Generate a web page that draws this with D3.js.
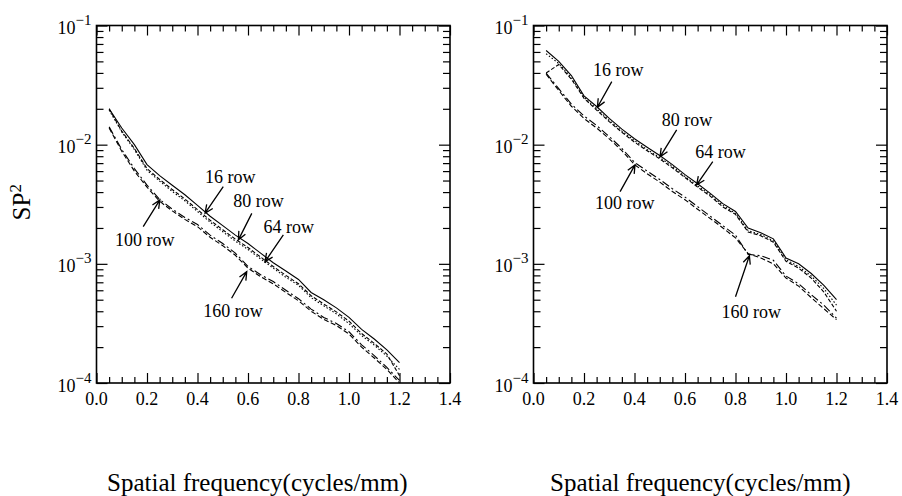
<!DOCTYPE html>
<html><head><meta charset="utf-8">
<script src="https://cdn.jsdelivr.net/npm/d3@7"></script>
<style>
body{margin:0;background:#fff}
svg{display:block}
text{font-family:"Liberation Serif","Times New Roman",serif;fill:#000}
</style>
</head><body>
<svg id="chart" width="902" height="496"></svg>
<script>
// ---------- data ----------
const freq = [0.05,0.10,0.15,0.20,0.25,0.30,0.35,0.40,0.45,0.50,0.55,0.60,
              0.65,0.70,0.75,0.80,0.85,0.90,0.95,1.00,1.05,1.10,1.15,1.20];

const leftRow16  = [2.0e-2,1.38e-2,1.0e-2,6.8e-3,5.5e-3,4.57e-3,3.8e-3,3.09e-3,2.51e-3,2.09e-3,1.74e-3,1.48e-3,
                    1.23e-3,1.02e-3,8.7e-4,7.4e-4,5.75e-4,5.0e-4,4.27e-4,3.55e-4,2.82e-4,2.34e-4,1.9e-4,1.48e-4];
const leftRow80  = [2.0e-2,1.30e-2,9.3e-3,6.3e-3,5.1e-3,4.2e-3,3.5e-3,2.85e-3,2.32e-3,1.93e-3,1.61e-3,1.37e-3,
                    1.14e-3,9.5e-4,8.0e-4,6.8e-4,5.4e-4,4.6e-4,3.95e-4,3.3e-4,2.6e-4,2.15e-4,1.75e-4,1.15e-4];
const leftRow64  = [1.95e-2,1.28e-2,9.1e-3,6.1e-3,4.95e-3,4.05e-3,3.38e-3,2.75e-3,2.24e-3,1.86e-3,1.55e-3,1.32e-3,
                    1.10e-3,9.2e-4,7.7e-4,6.6e-4,5.2e-4,4.45e-4,3.8e-4,3.15e-4,2.5e-4,2.08e-4,1.68e-4,1.3e-4];
const leftRow100 = [1.41e-2,9.1e-3,6.3e-3,4.57e-3,3.47e-3,2.88e-3,2.45e-3,2.14e-3,1.74e-3,1.48e-3,1.23e-3,9.5e-4,
                    8.1e-4,7.1e-4,6.0e-4,5.1e-4,4.17e-4,3.55e-4,3.16e-4,2.69e-4,2.09e-4,1.7e-4,1.35e-4,1.05e-4];
const leftRow160 = [1.38e-2,8.8e-3,6.0e-3,4.4e-3,3.35e-3,2.78e-3,2.36e-3,2.05e-3,1.67e-3,1.42e-3,1.18e-3,9.2e-4,
                    7.8e-4,6.8e-4,5.75e-4,4.9e-4,4.0e-4,3.42e-4,3.03e-4,2.58e-4,2.0e-4,1.62e-4,1.3e-4,1.0e-4];

const rightRow16  = [6.17e-2,5.0e-2,3.8e-2,2.57e-2,2.09e-2,1.66e-2,1.35e-2,1.12e-2,9.5e-3,8.1e-3,6.8e-3,5.6e-3,
                     4.7e-3,3.9e-3,3.2e-3,2.75e-3,2.0e-3,1.82e-3,1.62e-3,1.12e-3,1.0e-3,8.3e-4,6.6e-4,5.0e-4];
const rightRow80  = [4.0e-2,4.7e-2,3.55e-2,2.45e-2,1.95e-2,1.56e-2,1.27e-2,1.05e-2,8.9e-3,7.6e-3,6.4e-3,5.3e-3,
                     4.4e-3,3.7e-3,3.0e-3,2.6e-3,1.85e-3,1.72e-3,1.52e-3,1.05e-3,9.2e-4,7.6e-4,5.8e-4,4.0e-4];
const rightRow64  = [5.8e-2,4.8e-2,3.65e-2,2.5e-2,2.0e-2,1.6e-2,1.3e-2,1.08e-2,9.1e-3,7.8e-3,6.6e-3,5.4e-3,
                     4.5e-3,3.8e-3,3.1e-3,2.65e-3,1.9e-3,1.76e-3,1.56e-3,1.08e-3,9.5e-4,7.9e-4,6.2e-4,4.5e-4];
const rightRow100 = [3.98e-2,2.95e-2,2.19e-2,1.74e-2,1.45e-2,1.17e-2,9.3e-3,7.1e-3,6.0e-3,5.1e-3,4.27e-3,3.63e-3,
                     3.02e-3,2.51e-3,2.09e-3,1.74e-3,1.2e-3,1.17e-3,1.07e-3,7.9e-4,6.8e-4,5.5e-4,4.5e-4,3.5e-4];
const rightRow160 = [3.9e-2,2.85e-2,2.1e-2,1.66e-2,1.38e-2,1.12e-2,8.9e-3,6.8e-3,5.7e-3,4.85e-3,4.05e-3,3.45e-3,
                     2.87e-3,2.4e-3,2.0e-3,1.65e-3,1.22e-3,1.12e-3,1.0e-3,7.6e-4,6.5e-4,5.2e-4,4.2e-4,3.4e-4];

const seriesNames = ["16 row","80 row","64 row","100 row","160 row"];
const xTickValues = [0.0,0.2,0.4,0.6,0.8,1.0,1.2,1.4];
const yTickExponents = [-1,-2,-3,-4];
const xTitle = "Spatial frequency(cycles/mm)";
const yTitle = "SP";

// annotations: label, text anchor (f, value), arrow tail (f, value), arrow tip (f, value)
const leftNotes = [
  {label:"16 row",  tx:0.430, ty:4.78e-3, ax:0.502, ay:4.45e-3, px:0.430, py:2.66e-3},
  {label:"80 row",  tx:0.542, ty:3.00e-3, ax:0.615, ay:2.65e-3, px:0.562, py:1.59e-3},
  {label:"64 row",  tx:0.661, ty:1.83e-3, ax:0.740, ay:1.75e-3, px:0.667, py:1.04e-3},
  {label:"100 row", tx:0.073, ty:1.41e-3, ax:0.185, ay:2.05e-3, px:0.251, py:3.44e-3},
  {label:"160 row", tx:0.423, ty:3.58e-4, ax:0.535, ay:5.14e-4, px:0.595, py:8.6e-4}
];
const rightNotes = [
  {label:"16 row",  tx:0.236, ty:3.77e-2, ax:0.310, ay:3.38e-2, px:0.253, py:2.06e-2},
  {label:"80 row",  tx:0.508, ty:1.44e-2, ax:0.567, ay:1.33e-2, px:0.501, py:7.9e-3},
  {label:"64 row",  tx:0.641, ty:7.8e-3,  ax:0.710, ay:7.2e-3,  px:0.646, py:4.6e-3},
  {label:"100 row", tx:0.244, ty:2.88e-3, ax:0.343, ay:4.04e-3, px:0.402, py:6.76e-3},
  {label:"160 row", tx:0.745, ty:3.5e-4,  ax:0.800, ay:5.3e-4,  px:0.855, py:1.17e-3}
];

// ---------- styles ----------
const dashes = {"16 row":null, "80 row":"4,2", "64 row":"1.5,2", "100 row":"8,3,2,3", "160 row":"5,2.5"};

const svg = d3.select("#chart");
const yTop = 25.5, yBot = 383;

const panels = [
  {x0:96.5, x1:450, series:[leftRow16,leftRow80,leftRow64,leftRow100,leftRow160], notes:leftNotes, titleX:107, yTitle:true},
  {x0:533.5, x1:887, series:[rightRow16,rightRow80,rightRow64,rightRow100,rightRow160], notes:rightNotes, titleX:550, yTitle:false}
];

const minorX = d3.range(0, 1.4001, 0.05).filter(v => Math.abs(v/0.2 - Math.round(v/0.2)) > 1e-6);
const minorY = [];
[-4,-3,-2].forEach(e => { for (let m=2;m<=9;m++) minorY.push(m*Math.pow(10,e)); });
const majorY = yTickExponents.map(e => Math.pow(10,e));

panels.forEach(p => {
  const x = d3.scaleLinear().domain([0,1.4]).range([p.x0,p.x1]);
  const y = d3.scaleLog().domain([1e-4,1e-1]).range([yBot,yTop]);
  const g = svg.append("g");

  const addAxis = (axis, tx, ty) => {
    const a = g.append("g").attr("transform",`translate(${tx},${ty})`).call(axis);
    a.select(".domain").remove();
    a.selectAll("line").attr("stroke","#000").attr("stroke-width",1.2);
  };
  addAxis(d3.axisBottom(x).tickValues(xTickValues).tickSize(-10).tickFormat(""),0,yBot);
  addAxis(d3.axisBottom(x).tickValues(minorX).tickSize(-6).tickFormat(""),0,yBot);
  addAxis(d3.axisTop(x).tickValues(xTickValues).tickSize(-10).tickFormat(""),0,yTop);
  addAxis(d3.axisTop(x).tickValues(minorX).tickSize(-6).tickFormat(""),0,yTop);
  addAxis(d3.axisLeft(y).tickValues(majorY).tickSize(-11).tickFormat(""),p.x0,0);
  addAxis(d3.axisLeft(y).tickValues(minorY).tickSize(-7).tickFormat(""),p.x0,0);
  addAxis(d3.axisRight(y).tickValues(majorY).tickSize(-11).tickFormat(""),p.x1,0);
  addAxis(d3.axisRight(y).tickValues(minorY).tickSize(-7).tickFormat(""),p.x1,0);

  g.append("rect").attr("x",p.x0).attr("y",yTop).attr("width",p.x1-p.x0).attr("height",yBot-yTop)
    .attr("fill","none").attr("stroke","#000").attr("stroke-width",1.6);

  g.selectAll(".xl").data(xTickValues).join("text")
    .attr("x",d=>x(d)).attr("y",yBot+22).attr("text-anchor","middle")
    .attr("font-size",18).text(d=>d3.format(".1f")(d));

  yTickExponents.forEach(e => {
    const t = g.append("text").attr("x",p.x0-5).attr("y",y(Math.pow(10,e))+8.5)
      .attr("text-anchor","end").attr("font-size",18);
    t.append("tspan").text("10");
    t.append("tspan").attr("font-size",15).attr("dy",-9).text("\u2212"+Math.abs(e));
  });

  const line = d3.line().x((d,i)=>x(freq[i])).y(d=>y(d));
  p.series.forEach((s,k) => {
    g.append("path").datum(s).attr("d",line).attr("fill","none").attr("stroke","#000")
      .attr("stroke-width",1.1).attr("stroke-dasharray",dashes[seriesNames[k]]);
  });

  p.notes.forEach(n => {
    g.append("text").attr("x",x(n.tx)).attr("y",y(n.ty)).attr("font-size",18).text(n.label);
    const ax=x(n.ax), ay=y(n.ay), px=x(n.px), py=y(n.py);
    const ang = Math.atan2(py-ay, px-ax), L=9, w=0.42;
    const h1=[px-L*Math.cos(ang-w), py-L*Math.sin(ang-w)];
    const h2=[px-L*Math.cos(ang+w), py-L*Math.sin(ang+w)];
    g.append("path").attr("d",`M${ax},${ay}L${px},${py}M${h1[0]},${h1[1]}L${px},${py}L${h2[0]},${h2[1]}`)
      .attr("fill","none").attr("stroke","#000").attr("stroke-width",1.3);
  });

  g.append("text").attr("x",p.titleX).attr("y",491).attr("font-size",25).text(xTitle);

  if (p.yTitle) {
    const t = g.append("text").attr("transform",`translate(30,${(yTop+yBot)/2-2}) rotate(-90)`)
      .attr("text-anchor","middle").attr("font-size",25);
    t.append("tspan").text(yTitle);
    t.append("tspan").attr("font-size",17).attr("dy",-9).text("2");
  }
});
</script>
</body></html>
